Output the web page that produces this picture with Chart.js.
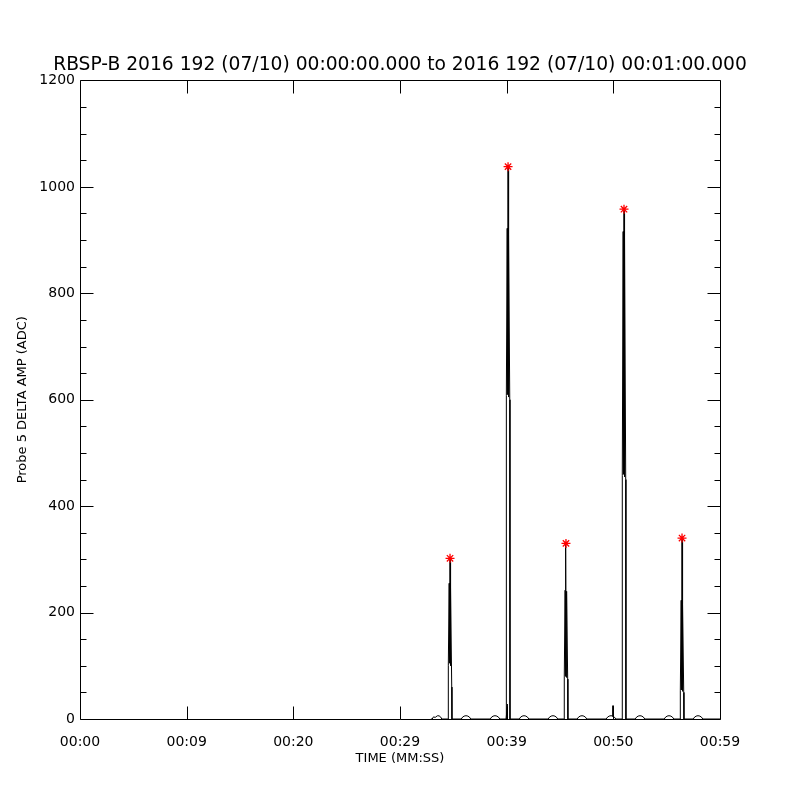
<!DOCTYPE html>
<html>
<head>
<meta charset="utf-8">
<title>RBSP-B Probe 5 delta amp</title>
<script src="https://cdn.jsdelivr.net/npm/chart.js@4.4.1/dist/chart.umd.min.js"></script>
<style>
  html, body { margin: 0; padding: 0; background: #fff; }
</style>
</head>
<body>
<canvas id="probe-chart" width="800" height="800"></canvas>
<script>
// values (time in seconds after 00:00:00, amplitude in ADC)
const timeSec = [
  32.90,
  33.02, 33.14, 33.30, 33.50, 33.66, 33.80, 33.92,
  34.51, 34.53, 34.61, 34.63, 34.65, 34.67, 34.69, 34.71, 34.73, 34.75, 34.77, 34.85, 34.87,
  35.74, 35.89, 36.09, 36.29, 36.49, 36.64,
  38.46, 38.61, 38.81, 39.01, 39.21, 39.36,
  40.04, 40.05, 40.06, 40.07,
  39.95, 39.97, 40.05, 40.07, 40.09, 40.11, 40.13, 40.15, 40.17, 40.19, 40.21, 40.29, 40.31,
  41.18, 41.33, 41.53, 41.73, 41.93, 42.08,
  43.89, 44.04, 44.24, 44.44, 44.64, 44.79,
  45.38, 45.40, 45.48, 45.50, 45.52, 45.54, 45.56, 45.58, 45.60, 45.62, 45.64, 45.72, 45.74,
  46.61, 46.76, 46.96, 47.16, 47.36, 47.51,
  49.33, 49.48, 49.68, 49.88, 49.96, 49.97, 49.98, 50.08, 50.23,
  50.82, 50.84, 50.92, 50.94, 50.96, 50.98, 51.00, 51.02, 51.04, 51.06, 51.08, 51.16, 51.18,
  52.05, 52.20, 52.40, 52.60, 52.80, 52.95,
  54.77, 54.92, 55.12, 55.32, 55.52, 55.67,
  56.26, 56.28, 56.36, 56.38, 56.40, 56.42, 56.44, 56.46, 56.48, 56.50, 56.52, 56.60, 56.62,
  57.49, 57.64, 57.84, 58.04, 58.24, 58.39,
  60.00
];
const ampAdc = [
  0,
  0, 4, 3, 6, 6, 4, 0,
  0, 101, 255, 110, 250, 105, 302, 108, 252, 100, 248, 60, 0,
  0, 4, 6, 6, 4, 0,
  0, 4, 6, 6, 4, 0,
  0, 28, 0, 26,
  0, 608, 922, 615, 915, 610, 1038, 612, 918, 605, 910, 600, 0,
  0, 4, 6, 6, 4, 0,
  0, 4, 6, 6, 4, 0,
  0, 79, 242, 85, 238, 80, 330, 82, 240, 78, 236, 75, 0,
  0, 4, 6, 6, 4, 0,
  0, 4, 6, 6, 5, 25, 5, 4, 0,
  0, 458, 916, 465, 910, 460, 958, 462, 912, 455, 905, 450, 0,
  0, 4, 6, 6, 4, 0,
  0, 4, 6, 6, 4, 0,
  0, 53, 223, 58, 220, 55, 340, 56, 218, 52, 215, 50, 0,
  0, 4, 6, 6, 4, 0,
  0
];

// spike maxima marked with red asterisks
const peakSec = [34.69, 40.13, 45.56, 51.00, 56.44];
const peakAdc = [302, 1038, 330, 958, 340];

const xTickValues = [0, 10, 20, 30, 40, 50, 60];
const xTickLabels = ['00:00', '00:09', '00:20', '00:29', '00:39', '00:50', '00:59'];
const yTickLabels = ['0', '200', '400', '600', '800', '1000', '1200'];

const titleText = 'RBSP-B 2016 192 (07/10) 00:00:00.000 to 2016 192 (07/10) 00:01:00.000';

Chart.defaults.color = '#000';
Chart.defaults.font.family = "'DejaVu Sans', sans-serif";

// IDL style box with inward tick marks on all four sides
const idlFrame = {
    id: 'idlFrame',
    afterDatasetsDraw(chart) {
        const { ctx, chartArea: a, scales: { x, y } } = chart;
        const px = v => Math.round(v) + 0.5;
        const left = px(a.left), right = px(a.right);
        const top = px(a.top), bottom = px(a.bottom);
        ctx.save();
        ctx.strokeStyle = '#000';
        ctx.lineWidth = 1;
        ctx.beginPath();
        ctx.rect(left, top, right - left, bottom - top);
        for (let v = 0; v <= 1200; v += 50) {
            const yy = px(y.getPixelForValue(v));
            const len = v % 200 === 0 ? 13 : 6;
            ctx.moveTo(left, yy); ctx.lineTo(left + len, yy);
            ctx.moveTo(right, yy); ctx.lineTo(right - len, yy);
        }
        xTickValues.slice(1, -1).forEach(v => {
            const xx = px(x.getPixelForValue(v));
            ctx.moveTo(xx, bottom); ctx.lineTo(xx, bottom - 13);
            ctx.moveTo(xx, top); ctx.lineTo(xx, top + 13);
        });
        ctx.stroke();
        ctx.restore();
    }
};

const ctx = document.getElementById('probe-chart').getContext('2d');
const probeChart = new Chart(ctx, {
    type: 'line',
    data: {
        datasets: [{
            type: 'scatter',
            label: 'peaks',
            data: peakSec.map((t, i) => ({ x: t, y: peakAdc[i] })),
            pointStyle: 'star',
            pointRadius: 4.5,
            borderColor: '#ff0000',
            backgroundColor: '#ff0000',
            borderWidth: 1.3,
            showLine: false
        }, {
            label: 'delta amp',
            data: timeSec.map((t, i) => ({ x: t, y: ampAdc[i] })),
            borderColor: '#000',
            borderWidth: 1,
            pointRadius: 0,
            tension: 0,
            fill: false
        }]
    },
    options: {
        responsive: false,
        animation: false,
        layout: { padding: 0 },
        plugins: {
            legend: { display: false },
            tooltip: { enabled: false },
            title: {
                display: true,
                text: titleText,
                color: '#000',
                font: { size: 18.7, weight: 'normal' },
                padding: { top: 54, bottom: 4 }
            }
        },
        scales: {
            x: {
                type: 'linear',
                min: 0,
                max: 60,
                afterFit: s => { s.height = 81; },
                afterBuildTicks: s => { s.ticks = xTickValues.map(v => ({ value: v })); },
                grid: { display: false, drawTicks: false },
                border: { display: false },
                ticks: {
                    autoSkip: false,
                    maxRotation: 0,
                    padding: 15,
                    font: { size: 14 },
                    callback: (v, i) => xTickLabels[i]
                },
                title: {
                    display: true,
                    text: 'TIME (MM:SS)',
                    font: { size: 13 },
                    padding: { top: 0, bottom: 34 }
                }
            },
            y: {
                min: 0,
                max: 1200,
                afterFit: s => { s.width = 80; },
                grid: { display: false, drawTicks: false },
                border: { display: false },
                ticks: {
                    stepSize: 200,
                    padding: 5,
                    font: { size: 14 },
                    callback: (v, i) => yTickLabels[i]
                },
                title: {
                    display: true,
                    text: 'Probe 5 DELTA AMP (ADC)',
                    font: { size: 13 },
                    padding: { top: 15, bottom: 0 }
                }
            },
            // empty right axis, only keeps the plot box centred
            yRight: {
                position: 'right',
                min: 0,
                max: 1200,
                afterFit: s => { s.width = 80; },
                grid: { display: false, drawTicks: false },
                border: { display: false },
                ticks: { display: false }
            }
        }
    },
    plugins: [idlFrame]
});
</script>
</body>
</html>
